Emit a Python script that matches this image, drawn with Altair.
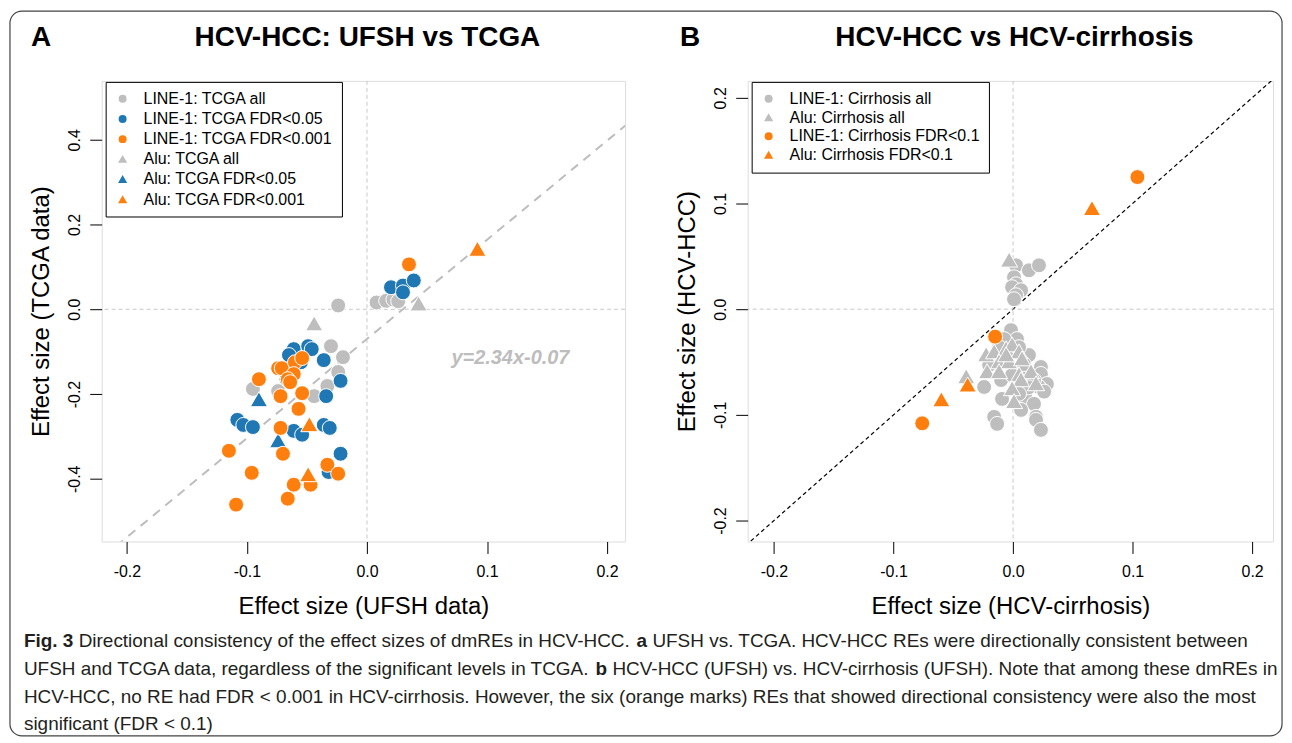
import altair as alt
import pandas as pd

FONT = "Liberation Sans"
GRAY = "#BEBEBE"
BLUE = "#1F77B4"
ORANGE = "#FF7F0E"
TRI = "M0,-1.1L1.15,0.9L-1.15,0.9Z"

# ---------------- Panel A data (UFSH effect size, TCGA effect size) ----------------
a_l1_all_x = [-0.024, 0.008, 0.016, 0.022, 0.026, -0.030, -0.020, -0.024, -0.033, -0.044, -0.095, -0.074]
a_l1_all_y = [0.009, 0.016, 0.020, 0.023, 0.019, -0.087, -0.113, -0.148, -0.181, -0.205, -0.188, -0.193]
a_alu_all_x = [-0.044, 0.043]
a_alu_all_y = [-0.035, 0.012]
a_l1_05_x = [-0.061, -0.065, -0.049, -0.046, -0.055, -0.036, -0.070, -0.067, -0.022, -0.034, -0.108, -0.103,
             -0.095, -0.061, -0.054, -0.036, -0.031, -0.022, -0.032, 0.020, 0.030, 0.039, 0.030]
a_l1_05_y = [-0.094, -0.108, -0.087, -0.094, -0.125, -0.120, -0.141, -0.165, -0.169, -0.205, -0.261, -0.273,
             -0.278, -0.287, -0.296, -0.273, -0.280, -0.341, -0.384, 0.052, 0.056, 0.068, 0.040]
a_alu_05_x = [-0.090, -0.074]
a_alu_05_y = [-0.214, -0.311]
a_l1_001_x = [-0.090, -0.074, -0.071, -0.060, -0.054, -0.061, -0.066, -0.064, -0.054, -0.072, -0.057, -0.072,
              -0.070, -0.115, -0.096, -0.109, -0.066, -0.061, -0.047, -0.033, -0.024, 0.035]
a_l1_001_y = [-0.165, -0.139, -0.139, -0.125, -0.115, -0.153, -0.165, -0.172, -0.198, -0.205, -0.235, -0.280,
              -0.341, -0.334, -0.386, -0.461, -0.447, -0.414, -0.414, -0.367, -0.388, 0.106]
a_alu_001_x = [-0.048, -0.049, 0.092]
a_alu_001_y = [-0.273, -0.391, 0.141]

a_labels = ["LINE-1: TCGA all", "LINE-1: TCGA FDR<0.05", "LINE-1: TCGA FDR<0.001",
            "Alu: TCGA all", "Alu: TCGA FDR<0.05", "Alu: TCGA FDR<0.001"]
a_colors = [GRAY, BLUE, ORANGE, GRAY, BLUE, ORANGE]
a_shapes = ["circle", "circle", "circle", TRI, TRI, TRI]

fit_slope = 2.34
fit_intercept = -0.07
fit_x = [-0.25, 0.25]

# ---------------- Panel B data (HCV-cirrhosis effect, HCV-HCC effect) ----------------
b_l1_all_x = [0.0025, 0.0133, 0.0217, 0.0008, 0.0025, -0.0008, 0.0067, 0.0025, 0.0008,
              -0.0017, 0.0033, -0.0075, 0.0133, 0.0233, 0.0233, 0.0283, 0.0217, -0.0242, -0.0100,
              -0.0092, 0.0108, 0.0175, 0.0067, -0.0158, -0.0133, 0.0192, 0.0192, 0.0233, -0.0008,
              -0.0200, 0.0108, 0.0050, -0.0050, 0.0090, 0.0175, -0.0117, 0.0260, 0.0130, 0.0050]
b_l1_all_y = [0.0415, 0.0368, 0.0415, 0.0302, 0.0236, 0.0208, 0.0179, 0.0132, 0.0094,
              -0.0198, -0.0283, -0.0283, -0.0434, -0.0547, -0.0613, -0.0708, -0.0736, -0.0736, -0.0670,
              -0.0849, -0.0849, -0.0896, -0.0953, -0.1019, -0.1085, -0.1019, -0.1047, -0.1142, -0.0623,
              -0.0528, -0.0594, -0.0360, -0.0450, -0.0520, -0.0670, -0.0360, -0.0780, -0.0740, -0.0800]
b_alu_all_x = [-0.0033, -0.0225, -0.0158, -0.0058, -0.0008, 0.0050, -0.0117, -0.0033, 0.0075, -0.0217,
               -0.0117, 0.0050, 0.0150, 0.0192, 0.0067, -0.0008, 0.0008, -0.0392, -0.0058]
b_alu_all_y = [0.0462, -0.0434, -0.0406, -0.0377, -0.0340, -0.0406, -0.0500, -0.0500, -0.0472, -0.0594,
               -0.0594, -0.0623, -0.0594, -0.0708, -0.0670, -0.0755, -0.0877, -0.0642, -0.0434]
b_l1_sig_x = [-0.015, -0.076, 0.104]
b_l1_sig_y = [-0.026, -0.108, 0.125]
b_alu_sig_x = [-0.038, -0.060, 0.066]
b_alu_sig_y = [-0.072, -0.086, 0.095]

b_labels = ["LINE-1: Cirrhosis all", "Alu: Cirrhosis all", "LINE-1: Cirrhosis FDR<0.1", "Alu: Cirrhosis FDR<0.1"]
b_colors = [GRAY, GRAY, ORANGE, ORANGE]
b_shapes = ["circle", TRI, "circle", TRI]

tick_vals_x = [-0.2, -0.1, 0.0, 0.1, 0.2]
tick_vals_ya = [-0.4, -0.2, 0.0, 0.2, 0.4]
tick_vals_yb = [-0.2, -0.1, 0.0, 0.1, 0.2]

caption_lines = [
    [("Fig. 3", "bold"), ("Directional consistency of the effect sizes of dmREs in HCV-HCC.", "normal"),
     ("a", "bold"), ("UFSH vs. TCGA. HCV-HCC REs were directionally consistent between", "normal")],
    [("UFSH and TCGA data, regardless of the significant levels in TCGA.", "normal"), ("b", "bold"),
     ("HCV-HCC (UFSH) vs. HCV-cirrhosis (UFSH). Note that among these dmREs in", "normal")],
    [("HCV-HCC, no RE had FDR < 0.001 in HCV-cirrhosis. However, the six (orange marks) REs that showed "
      "directional consistency were also the most", "normal")],
    [("significant (FDR < 0.1)", "normal")],
]

# Arial / Liberation Sans advance widths (1/1000 em) used to place caption segments side by side
_REG = {" ": 278, "!": 278, "(": 333, ")": 333, ",": 278, "-": 333, ".": 278, ":": 278, "<": 584, "=": 584,
        "A": 667, "B": 667, "C": 722, "D": 722, "E": 667, "F": 611, "G": 778, "H": 722, "I": 278, "J": 500,
        "K": 667, "L": 556, "M": 833, "N": 722, "O": 778, "P": 667, "Q": 778, "R": 722, "S": 667, "T": 611,
        "U": 722, "V": 667, "W": 944, "X": 667, "Y": 667, "Z": 611, "a": 556, "b": 556, "c": 500, "d": 556,
        "e": 556, "f": 278, "g": 556, "h": 556, "i": 222, "j": 222, "k": 500, "l": 222, "m": 833, "n": 556,
        "o": 556, "p": 556, "q": 556, "r": 333, "s": 500, "t": 278, "u": 556, "v": 500, "w": 722, "x": 500,
        "y": 500, "z": 500}
_BOLD = {" ": 278, ".": 278, "F": 611, "a": 556, "b": 611, "g": 611, "i": 278}


def text_w(s, wt, size):
    tab = _BOLD if wt == "bold" else _REG
    return sum(tab.get(c, 556) for c in s) * size / 1000.0


CAP_SIZE = 19
CAP_X0 = -78
caption_y = [562, 590, 618, 645]


def build_df(groups):
    rows = []
    order = 0
    for label, xs, ys in groups:
        for x, y in zip(xs, ys):
            rows.append({"x": x, "y": y, "group": label, "ord": order})
            order += 1
    return pd.DataFrame(rows)


df_a = build_df([
    (a_labels[0], a_l1_all_x, a_l1_all_y),
    (a_labels[3], a_alu_all_x, a_alu_all_y),
    (a_labels[1], a_l1_05_x, a_l1_05_y),
    (a_labels[4], a_alu_05_x, a_alu_05_y),
    (a_labels[2], a_l1_001_x, a_l1_001_y),
    (a_labels[5], a_alu_001_x, a_alu_001_y),
])
df_b = build_df([
    (b_labels[0], b_l1_all_x, b_l1_all_y),
    (b_labels[1], b_alu_all_x, b_alu_all_y),
    (b_labels[2], b_l1_sig_x, b_l1_sig_y),
    (b_labels[3], b_alu_sig_x, b_alu_sig_y),
])

LABEL_EXPR = "replace(format(datum.value, '.1f'), '\u2212', '-')"


def x_axis(title, values):
    return alt.Axis(title=title, values=values, labelExpr=LABEL_EXPR, domain=False, grid=False,
                    tickSize=12, tickColor="black", tickWidth=1, labelFontSize=16, labelPadding=10,
                    labelColor="black", titleFontSize=24, titleFontWeight="normal", titleColor="black",
                    titlePadding=15, labelFont=FONT, titleFont=FONT)


def y_axis(title, values):
    return alt.Axis(title=title, values=values, labelExpr=LABEL_EXPR, domain=False, grid=False,
                    tickSize=12, tickColor="black", tickWidth=1, labelFontSize=16, labelPadding=7,
                    labelAngle=270, labelAlign="center", labelBaseline="bottom",
                    labelColor="black", titleFontSize=24, titleFontWeight="normal", titleColor="black",
                    titlePadding=13, labelFont=FONT, titleFont=FONT)


def panel(df, labels, colors, shapes, xdom, ydom, xtitle, ytitle, yvals, title, width, letter, letter_x,
          row_pad):
    xs = alt.Scale(domain=xdom, nice=False, zero=False)
    ys = alt.Scale(domain=ydom, nice=False, zero=False)
    legend = alt.Legend(orient="none", legendX=4, legendY=1, strokeColor="black", fillColor="white",
                        padding=9, labelFontSize=16, labelFont=FONT, labelColor="black", symbolSize=64,
                        symbolStrokeWidth=0, labelOffset=13, rowPadding=row_pad, labelLimit=400)
    vline = alt.Chart(pd.DataFrame({"x": [0.0]})).mark_rule(color="#C8C8C8", strokeDash=[4, 3], strokeWidth=1).encode(
        x=alt.X("x:Q", scale=xs, axis=x_axis(xtitle, tick_vals_x)))
    hline = alt.Chart(pd.DataFrame({"y": [0.0]})).mark_rule(color="#C8C8C8", strokeDash=[4, 3], strokeWidth=1).encode(
        y=alt.Y("y:Q", scale=ys, axis=y_axis(ytitle, yvals)))
    pts = alt.Chart(df).mark_point(filled=True, size=225, stroke="white", strokeWidth=1, opacity=1).encode(
        x=alt.X("x:Q", scale=xs, axis=x_axis(xtitle, tick_vals_x)),
        y=alt.Y("y:Q", scale=ys, axis=y_axis(ytitle, yvals)),
        color=alt.Color("group:N", scale=alt.Scale(domain=labels, range=colors), legend=legend, title=None),
        shape=alt.Shape("group:N", scale=alt.Scale(domain=labels, range=shapes), legend=legend, title=None),
        order=alt.Order("ord:Q"),
    )
    letter_mark = alt.Chart(pd.DataFrame({"t": [letter]})).mark_text(
        align="left", baseline="middle", fontSize=28, fontWeight="bold", font=FONT, color="black").encode(
        text="t:N", x=alt.value(letter_x), y=alt.value(-43))
    title_mark = alt.Chart(pd.DataFrame({"t": [title]})).mark_text(
        align="center", baseline="middle", fontSize=28, fontWeight="bold", font=FONT, color="black").encode(
        text="t:N", x=alt.value(width / 2 + 4), y=alt.value(-43))
    return [vline, hline, pts, letter_mark, title_mark], xs, ys


A_W, A_H = 525, 462
B_W, B_H = 527, 462
a_xdom = [-0.221, 0.215]
a_ydom = [-0.548, 0.539]
b_xdom = [-0.222, 0.2175]
b_ydom = [-0.2198, 0.216]

fit_df = pd.DataFrame({"x": fit_x, "y": [fit_slope * v + fit_intercept for v in fit_x]})
diag_df = pd.DataFrame({"x": fit_x, "y": fit_x})

# ----- Panel A -----
layers_a, xs_a, ys_a = panel(df_a, a_labels, a_colors, a_shapes, a_xdom, a_ydom,
                             "Effect size (UFSH data)", "Effect size (TCGA data)", tick_vals_ya,
                             "HCV-HCC: UFSH vs TCGA", A_W, "A", -71, 4.2)
fit_line = alt.Chart(fit_df).mark_line(color="#BDBDBD", strokeDash=[9, 7], strokeWidth=2, clip=True).encode(
    x=alt.X("x:Q", scale=xs_a), y=alt.Y("y:Q", scale=ys_a))
fit_text = alt.Chart(pd.DataFrame({"x": [0.1195], "y": [-0.115],
                                   "t": ["y=%.2fx%.2f" % (fit_slope, fit_intercept)]})).mark_text(
    fontSize=20, fontWeight="bold", fontStyle="italic", font=FONT, color="#BDBDBD").encode(
    x=alt.X("x:Q", scale=xs_a), y=alt.Y("y:Q", scale=ys_a), text="t:N")

frame = alt.Chart(pd.DataFrame({"k": [0]})).mark_rect(
    fillOpacity=0, stroke="#444444", strokeWidth=1.2, cornerRadius=12).encode(
    x=alt.value(-92), x2=alt.value(1184), y=alt.value(-70), y2=alt.value(657))

cap_layers = []
for line, yy in zip(caption_lines, caption_y):
    xx = CAP_X0
    for txt, wt in line:
        cap_layers.append(alt.Chart(pd.DataFrame({"t": [txt]})).mark_text(
            align="left", baseline="middle", fontSize=CAP_SIZE, fontWeight=wt, font=FONT,
            color="#231F20").encode(text="t:N", x=alt.value(round(xx, 1)), y=alt.value(yy)))
        xx += text_w(txt + " ", wt, CAP_SIZE)

chart_a = alt.layer(frame, fit_line, *layers_a, fit_text, *cap_layers).properties(width=A_W, height=A_H)

# ----- Panel B -----
layers_b, xs_b, ys_b = panel(df_b, b_labels, b_colors, b_shapes, b_xdom, b_ydom,
                             "Effect size (HCV-cirrhosis)", "Effect size (HCV-HCC)", tick_vals_yb,
                             "HCV-HCC vs HCV-cirrhosis", B_W, "B", -68, 2.8)
diag = alt.Chart(diag_df).mark_line(color="black", strokeDash=[4, 3], strokeWidth=1.2, clip=True).encode(
    x=alt.X("x:Q", scale=xs_b), y=alt.Y("y:Q", scale=ys_b))
chart_b = alt.layer(diag, *layers_b).properties(width=B_W, height=B_H)

chart = alt.hconcat(chart_a, chart_b, spacing=123, bounds="flush").resolve_scale(
    x="independent", y="independent", color="independent", shape="independent").resolve_legend(
    color="independent", shape="independent").properties(padding=8, background="white").configure_view(
    stroke="black", strokeWidth=1).configure(font=FONT)

chart.save("out.html", embed_options={"renderer": "svg", "actions": False})
